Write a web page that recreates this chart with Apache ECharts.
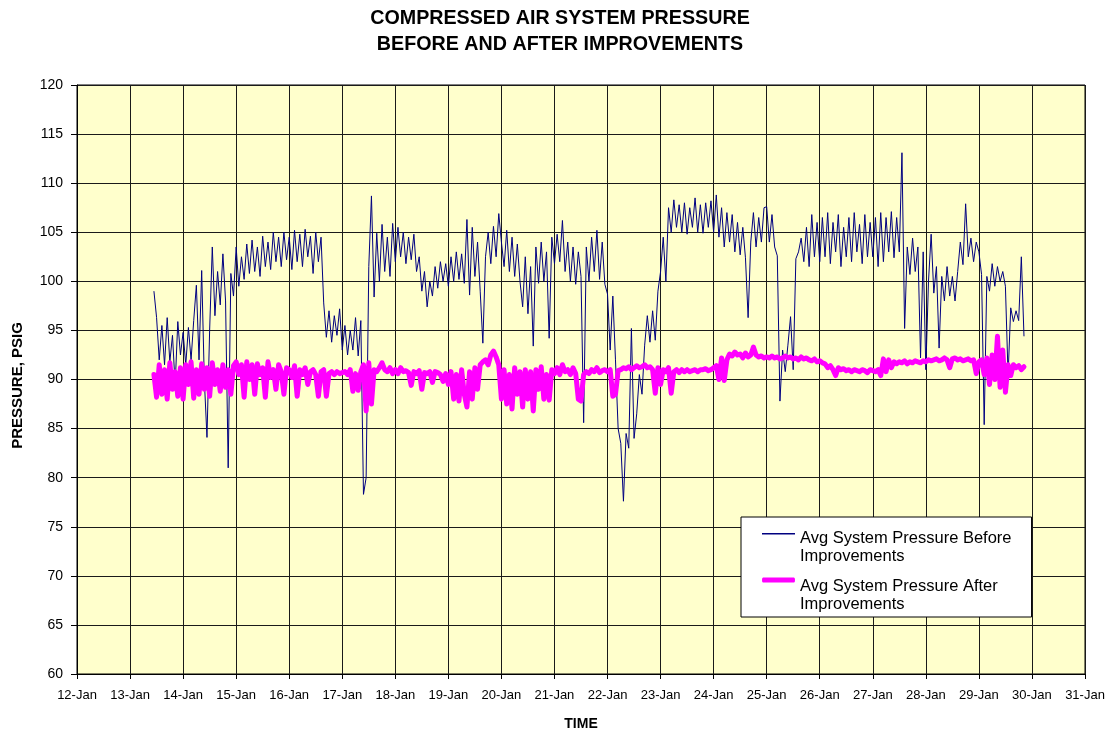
<!DOCTYPE html>
<html>
<head>
<meta charset="utf-8">
<title>Compressed Air System Pressure</title>
<script src="https://cdn.jsdelivr.net/npm/echarts@6.0.0/dist/echarts.min.js"></script>
<style>
  html, body { margin: 0; padding: 0; background: #fff; }
  #main { width: 1110px; height: 736px; }
</style>
</head>
<body>
<div id="main"></div>
<script>
// samples every 0.05 day (1.2 h), first one at 13.45 (13-Jan ~11h)
var sampleStart = 13.45;
var sampleStep = 0.05;

// Avg system pressure BEFORE improvements, one array per day (psig)
var before13 = [99.0, 96.3, 92.0, 95.5, 91.5, 96.3, 91.8, 94.5, 89.4, 95.9, 92.5];
var before14 = [94.8, 91.5, 95.3, 92.0, 96.0, 99.6, 92.0, 101.1, 90.0, 84.1, 95.0, 103.5, 96.5, 101.0, 97.6, 102.8, 98.0, 81.0, 100.8, 98.5];
var before15 = [103.5, 99.5, 102.5, 100.2, 103.8, 100.8, 104.2, 101.0, 103.5, 100.5, 104.6, 101.5, 104.0, 101.2, 105.0, 102.0, 104.5, 101.5, 105.0, 102.2];
var before16 = [104.5, 101.2, 105.2, 102.0, 104.8, 101.5, 105.3, 102.5, 104.6, 100.8, 105.0, 102.0, 104.5, 97.8, 94.3, 97.0, 93.8, 96.5, 94.5, 97.2];
var before17 = [93.0, 95.5, 92.5, 95.0, 93.0, 96.3, 92.4, 96.0, 78.3, 80.0, 101.5, 108.7, 98.4, 104.9, 100.0, 105.8, 101.0, 104.5, 100.5, 105.9];
var before18 = [102.0, 105.5, 102.5, 105.0, 101.8, 104.5, 102.2, 104.8, 101.0, 102.5, 99.0, 101.0, 97.4, 100.0, 98.5, 101.5, 99.3, 102.0, 100.0, 101.8];
var before19 = [99.5, 102.5, 100.0, 103.0, 100.2, 102.8, 99.8, 106.3, 98.6, 105.5, 100.5, 104.0, 99.0, 93.7, 102.5, 105.0, 101.8, 105.6, 102.5, 106.9];
var before20 = [104.0, 101.5, 105.2, 101.0, 104.5, 100.5, 103.8, 100.0, 97.4, 102.5, 96.7, 101.5, 93.4, 103.5, 99.8, 104.0, 100.0, 103.0, 94.2, 104.5];
var before21 = [101.8, 104.8, 102.0, 106.2, 101.0, 104.0, 100.0, 103.5, 99.7, 103.0, 100.5, 85.6, 103.5, 100.0, 104.5, 101.0, 105.2, 100.2, 104.0, 99.7];
var before22 = [98.7, 93.0, 98.5, 92.0, 85.0, 83.5, 77.6, 84.5, 83.0, 95.2, 84.0, 86.5, 90.5, 88.5, 93.5, 96.5, 93.8, 97.0, 94.0, 99.0];
var before23 = [101.0, 104.5, 100.0, 107.5, 105.0, 108.3, 105.5, 107.8, 105.0, 108.0, 104.8, 107.5, 105.5, 108.5, 105.0, 107.8, 104.9, 108.0, 105.5, 108.2];
var before24 = [105.0, 108.8, 104.5, 107.5, 103.5, 107.0, 104.0, 106.8, 103.0, 106.0, 102.7, 105.5, 102.4, 96.3, 104.0, 107.0, 103.5, 106.5, 104.0, 107.5];
var before25 = [107.6, 104.0, 106.8, 103.5, 102.6, 87.8, 93.0, 90.8, 93.5, 96.4, 91.0, 102.3, 103.0, 104.4, 102.0, 105.5, 101.5, 106.8, 102.5, 106.0];
var before26 = [102.0, 106.5, 102.5, 107.0, 101.8, 106.0, 103.0, 106.8, 101.5, 105.5, 102.5, 106.5, 102.0, 107.0, 103.0, 105.8, 101.8, 106.8, 102.5, 106.0];
var before27 = [102.5, 106.5, 101.5, 107.0, 102.0, 106.5, 103.0, 107.1, 102.4, 106.5, 103.0, 113.1, 95.2, 103.5, 100.7, 104.4, 101.0, 103.5, 92.2, 103.0];
var before28 = [91.0, 100.0, 104.8, 98.8, 101.5, 93.2, 100.5, 98.0, 101.5, 98.5, 100.5, 98.0, 101.0, 104.0, 101.7, 107.9, 102.5, 104.4, 102.0, 104.0];
var before29 = [103.0, 100.7, 85.4, 100.5, 99.0, 101.8, 99.5, 101.5, 100.0, 101.0, 99.5, 90.4, 97.3, 95.9, 97.0, 96.0, 102.5, 94.4];

// Avg system pressure AFTER improvements, same sampling
var after13 = [90.5, 88.2, 91.5, 88.5, 91.0, 88.0, 91.7, 89.0, 90.8, 88.3, 91.2];
var after14 = [88.0, 91.5, 89.5, 91.8, 88.1, 91.0, 88.5, 91.6, 89.0, 91.2, 88.3, 91.7, 89.5, 91.0, 88.8, 91.5, 89.2, 91.0, 88.5, 91.4];
var after15 = [91.8, 90.5, 91.5, 88.2, 91.8, 90.0, 91.5, 88.5, 91.6, 90.5, 91.2, 88.2, 91.8, 90.2, 91.0, 89.0, 91.5, 90.8, 88.5, 91.2];
var after16 = [91.0, 90.2, 91.4, 88.3, 91.0, 90.5, 91.2, 89.5, 90.8, 91.0, 90.5, 88.3, 90.8, 91.0, 88.3, 90.6, 90.8, 90.5, 90.8, 90.6];
var after17 = [90.7, 90.8, 90.5, 91.0, 88.8, 90.6, 88.9, 90.8, 91.5, 86.8, 91.7, 87.5, 91.0, 90.8, 91.2, 91.7, 91.0, 90.8, 91.2, 90.6];
var after18 = [91.0, 90.6, 91.2, 90.8, 90.9, 90.7, 89.4, 90.8, 90.6, 90.9, 89.0, 90.7, 90.6, 90.8, 89.7, 90.8, 90.7, 90.5, 89.8, 90.6];
var after19 = [89.5, 90.8, 88.0, 90.5, 87.8, 91.0, 88.5, 87.2, 90.8, 88.0, 91.2, 89.0, 91.5, 91.8, 92.0, 91.5, 92.5, 92.9, 92.3, 91.5];
var after20 = [88.0, 91.0, 87.5, 90.5, 87.0, 91.2, 88.5, 90.8, 87.2, 91.0, 88.0, 90.8, 86.8, 91.0, 89.0, 91.3, 88.0, 90.5, 87.9, 91.0];
var after21 = [90.6, 91.2, 90.5, 91.5, 90.8, 91.0, 90.5, 91.2, 90.6, 88.0, 87.8, 90.5, 90.8, 90.6, 91.0, 90.8, 91.2, 90.7, 90.9, 91.0];
var after22 = [90.8, 91.0, 88.3, 88.5, 90.9, 91.0, 91.2, 91.1, 91.3, 91.0, 91.2, 91.4, 91.2, 91.3, 91.5, 91.2, 91.3, 91.0, 88.6, 91.2];
var after23 = [89.5, 91.0, 90.8, 91.2, 88.6, 90.8, 91.0, 90.7, 91.0, 90.8, 91.0, 90.8, 90.9, 91.0, 90.8, 91.0, 91.0, 91.1, 90.9, 91.0];
var after24 = [91.2, 91.4, 90.0, 92.2, 89.9, 92.0, 92.6, 92.4, 92.8, 92.5, 92.6, 92.2, 92.7, 92.3, 92.5, 93.3, 92.5, 92.3, 92.4, 92.2];
var after25 = [92.3, 92.2, 92.4, 92.2, 92.3, 92.1, 92.2, 92.4, 92.2, 92.3, 92.1, 92.2, 92.0, 92.3, 92.1, 92.2, 92.0, 91.9, 92.1, 91.8];
var after26 = [91.9, 91.7, 91.6, 91.2, 91.4, 91.0, 90.4, 91.2, 91.0, 91.1, 90.9, 91.0, 90.8, 91.0, 90.9, 90.8, 91.0, 90.9, 90.7, 91.0];
var after27 = [90.9, 90.8, 91.0, 90.4, 92.1, 90.8, 92.0, 91.2, 91.8, 91.6, 91.8, 91.7, 91.9, 91.6, 91.8, 91.7, 91.9, 91.8, 91.7, 91.9];
var after28 = [91.8, 92.0, 91.9, 92.0, 92.1, 91.9, 92.0, 92.2, 92.0, 91.2, 92.1, 92.2, 92.0, 92.1, 91.9, 92.0, 92.1, 91.9, 92.0, 90.6];
var after29 = [91.8, 92.0, 90.5, 92.2, 89.5, 92.5, 90.0, 94.4, 89.2, 93.0, 88.7, 91.5, 90.4, 91.5, 91.2, 91.4, 91.0, 91.3];

// axis: days of January
var dayMin = 12;
var dayMax = 31;
var pressMin = 60;
var pressMax = 120;
var pressStep = 5;

var beforeName = 'Avg System Pressure Before\nImprovements';
var afterName = 'Avg System Pressure After\nImprovements';

var beforeAll = [].concat(before13, before14, before15, before16, before17, before18, before19, before20,
    before21, before22, before23, before24, before25, before26, before27, before28, before29);
var afterAll = [].concat(after13, after14, after15, after16, after17, after18, after19, after20,
    after21, after22, after23, after24, after25, after26, after27, after28, after29);

function toPoints(values) {
    var pts = [];
    for (var i = 0; i < values.length; i++) {
        pts.push([+(sampleStart + i * sampleStep).toFixed(2), values[i]]);
    }
    return pts;
}

var font = "'Liberation Sans', Arial, sans-serif";
var chart = echarts.init(document.getElementById('main'), null, { renderer: 'canvas' });

var option = {
    animation: false,
    backgroundColor: '#ffffff',
    textStyle: { fontFamily: font, color: '#000' },
    title: {
        text: 'COMPRESSED AIR SYSTEM PRESSURE\nBEFORE AND AFTER IMPROVEMENTS',
        left: 560,
        top: 6,
        padding: 0,
        textAlign: 'center',
        textStyle: {
            fontFamily: font,
            fontSize: 19.7,
            fontWeight: 'bold',
            lineHeight: 26,
            color: '#000'
        }
    },
    legend: {
        orient: 'vertical',
        left: 741,
        top: 517,
        padding: [12, 20, 4, 21],
        itemGap: 12,
        itemWidth: 33,
        itemHeight: 36,
        backgroundColor: '#ffffff',
        borderColor: '#000',
        borderWidth: 1,
        textStyle: { fontFamily: font, fontSize: 16.5, lineHeight: 18, color: '#000' },
        data: [
            { name: beforeName, icon: 'path://M0,0 M0,4L33,4L33,5.5L0,5.5Z M0,36' },
            { name: afterName, icon: 'path://M0,0 M1,0.5L32,0.5Q33,0.5 33,3Q33,5.5 32,5.5L1,5.5Q0,5.5 0,3Q0,0.5 1,0.5Z M0,36' }
        ]
    },
    grid: {
        left: 77,
        right: 25,
        top: 85,
        bottom: 60,
        show: true,
        backgroundColor: '#FFFFCC',
        borderColor: '#000',
        borderWidth: 1
    },
    xAxis: {
        type: 'value',
        min: dayMin,
        max: dayMax,
        interval: 1,
        name: 'TIME',
        nameLocation: 'middle',
        nameGap: 43,
        nameTextStyle: { fontFamily: font, fontSize: 14, fontWeight: 'bold', color: '#000' },
        axisLine: { show: true, onZero: false, lineStyle: { color: '#000', width: 1 } },
        axisTick: { show: true, length: 5, lineStyle: { color: '#000' } },
        axisLabel: {
            fontFamily: font,
            fontSize: 13,
            color: '#000',
            margin: 15,
            formatter: function(v) { return v + '-Jan'; }
        },
        splitLine: { show: true, lineStyle: { color: '#1a1a1a', width: 1 } }
    },
    yAxis: {
        type: 'value',
        min: pressMin,
        max: pressMax,
        interval: pressStep,
        name: 'PRESSURE, PSIG',
        nameLocation: 'middle',
        nameGap: 52,
        nameTextStyle: { fontFamily: font, fontSize: 15, fontWeight: 'bold', color: '#000', padding: [0, 12, 0, 0] },
        axisLine: { show: true, lineStyle: { color: '#000', width: 1 } },
        axisTick: { show: true, length: 6, lineStyle: { color: '#000' } },
        axisLabel: { fontFamily: font, fontSize: 14, color: '#000', margin: 14 },
        splitLine: { show: true, lineStyle: { color: '#1a1a1a', width: 1 } }
    },
    series: [
        {
            name: beforeName,
            type: 'line',
            data: toPoints(beforeAll),
            showSymbol: false,
            symbol: 'none',
            color: '#000080',
            lineStyle: { color: '#000080', width: 1 },
            z: 3
        },
        {
            name: afterName,
            type: 'line',
            data: toPoints(afterAll),
            showSymbol: false,
            symbol: 'none',
            color: '#FF00FF',
            lineStyle: { color: '#FF00FF', width: 5, cap: 'round', join: 'round' },
            z: 4
        }
    ]
};

chart.setOption(option);
</script>
</body>
</html>
